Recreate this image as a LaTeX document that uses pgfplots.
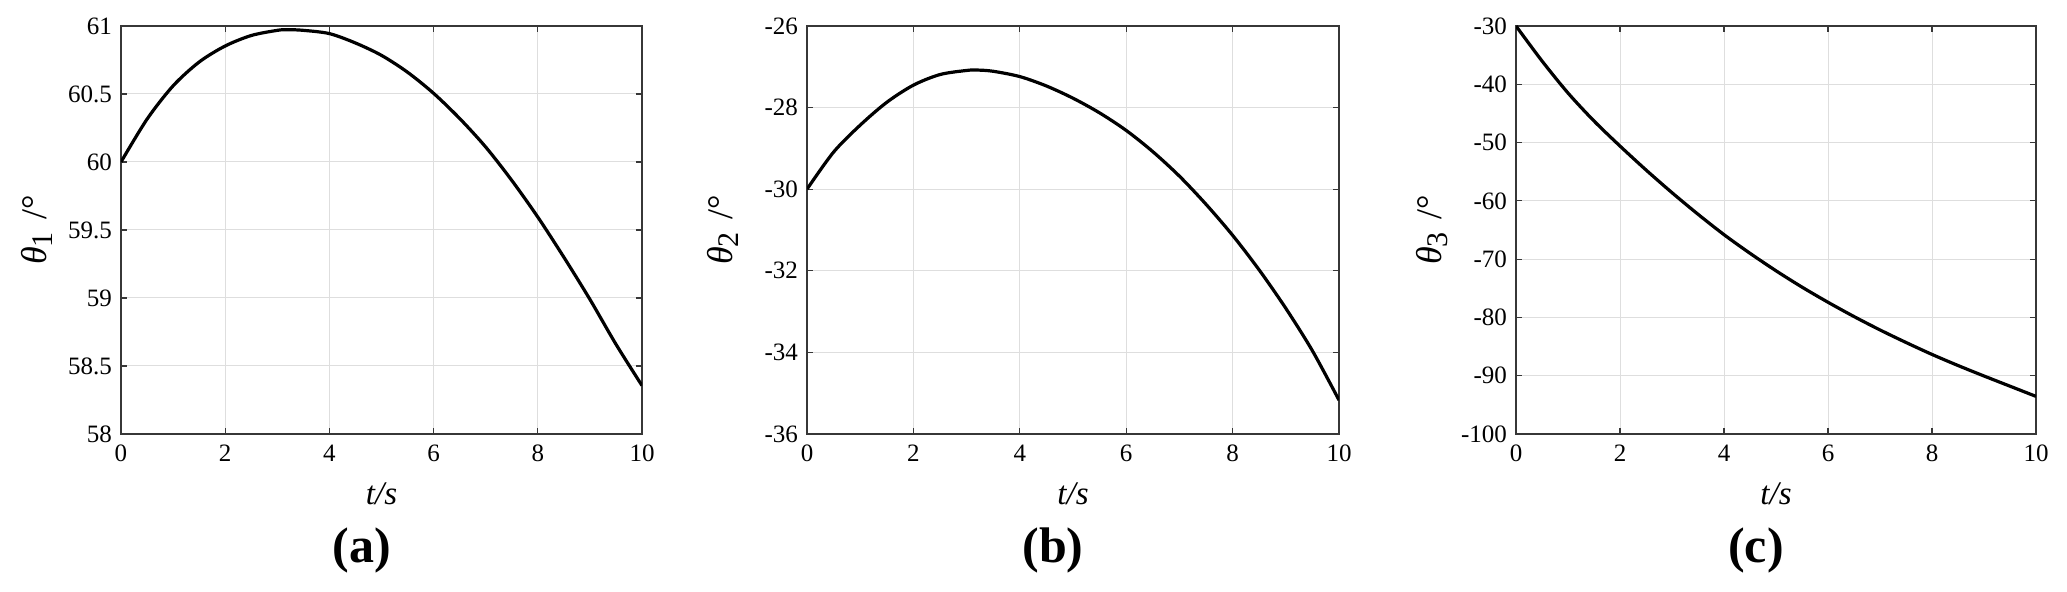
\documentclass[border=0pt]{standalone}
\usepackage{fontspec}
\setmainfont{Liberation Serif}
\usepackage{pgfplots}
\pgfplotsset{compat=1.18}

\definecolor{gridc}{RGB}{222,222,222}
\definecolor{axc}{RGB}{55,55,55}

\pgfplotsset{
  panel/.style={
    scale only axis,
    height=204pt,
    xmin=0, xmax=10,
    xtick={0,2,4,6,8,10},
    xticklabels={0,2,4,6,8,10},
    grid=major,
    major grid style={draw=gridc, line width=0.5pt},
    axis line style={draw=axc, line width=0.6pt},
    tick style={draw=axc, line width=0.6pt},
    major tick length=3pt,
    tick align=inside,
    ticklabel style={font=\fontsize{12.5}{14}\selectfont},
    xticklabel style={yshift=-2pt},
    yticklabel style={xshift=-1pt},
    xlabel={\textit{t/s}},
    xlabel style={font=\fontsize{16.5}{18}\selectfont, at={(axis description cs:0.5,0)}, anchor=center, yshift=-30pt},
    ylabel style={font=\fontsize{18}{20}\selectfont, at={(axis description cs:0,0.5)}, anchor=center, yshift=42pt},
  },
  curve/.style={black, line width=1.6pt, smooth},
}

\newcommand{\thlabel}[1]{\textit{θ}\raisebox{-0.35ex}{\fontsize{15}{15}\selectfont #1}\hspace{0.35em}/°}
\newcommand{\panellabel}[1]{\node[font=\bfseries\fontsize{25}{28}\selectfont] at ([xshift=-10pt, yshift=-58pt]current axis.south) {#1};}

\begin{document}
\begin{tikzpicture}
\useasboundingbox (-60.5pt,-79pt) rectangle (973pt,217pt);

% (a) theta_1
\begin{axis}[panel, width=260.5pt, at={(0,0)}, anchor=south west,
    ymin=58, ymax=61, ytick={58,58.5,59,59.5,60,60.5,61},
    yticklabels={58,58.5,59,59.5,60,60.5,61},
    ylabel={\thlabel{1}}]
\addplot[curve] coordinates {
 (0,60.00) (0.5,60.315) (1,60.56) (1.5,60.735) (2,60.853) (2.5,60.93)
 (3,60.968) (3.2,60.973) (3.5,60.968) (4,60.944) (4.5,60.875) (5,60.784)
 (5.5,60.66) (6,60.505) (6.5,60.32) (7,60.11) (7.5,59.865) (8,59.595)
 (8.5,59.30) (9,58.99) (9.5,58.66) (10,58.356)
};
\end{axis}
\panellabel{(a)}

% (b) theta_2
\begin{axis}[panel, width=266pt, at={(343pt,0)}, anchor=south west,
    ymin=-36, ymax=-26, ytick={-36,-34,-32,-30,-28,-26},
    yticklabels={-36,-34,-32,-30,-28,-26},
    ylabel={\thlabel{2}}]
\addplot[curve] coordinates {
 (0,-30.0) (0.5,-29.09) (1,-28.43) (1.5,-27.87) (2,-27.45) (2.5,-27.19)
 (3,-27.09) (3.2,-27.08) (3.5,-27.11) (4,-27.24) (4.5,-27.47) (5,-27.77)
 (5.5,-28.13) (6,-28.56) (6.5,-29.08) (7,-29.68) (7.5,-30.37) (8,-31.13)
 (8.5,-31.98) (9,-32.92) (9.5,-33.96) (10,-35.17)
};
\end{axis}
\panellabel{(b)}

% (c) theta_3
\begin{axis}[panel, width=260pt, at={(697.5pt,0)}, anchor=south west,
    ymin=-100, ymax=-30, ytick={-100,-90,-80,-70,-60,-50,-40,-30},
    yticklabels={-100,-90,-80,-70,-60,-50,-40,-30},
    ylabel={\thlabel{3}}]
\addplot[curve] coordinates {
 (0,-30.0) (0.5,-36.0) (1,-41.5) (1.5,-46.3) (2,-50.6) (2.5,-54.7)
 (3,-58.6) (3.5,-62.3) (4,-65.8) (4.5,-69.0) (5,-72.0) (5.5,-74.8)
 (6,-77.4) (6.5,-79.85) (7,-82.15) (7.5,-84.3) (8,-86.35) (8.5,-88.25)
 (9,-90.05) (9.5,-91.8) (10,-93.55)
};
\end{axis}
\panellabel{(c)}
\end{tikzpicture}
\end{document}
